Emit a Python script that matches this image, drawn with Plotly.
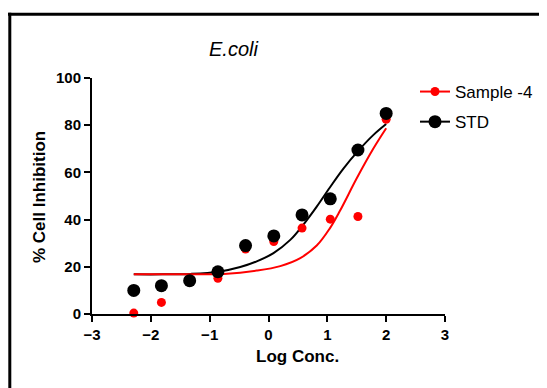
import plotly.graph_objects as go

# ---- data ----
log_conc = [-2.29, -1.82, -1.34, -0.86, -0.39, 0.09, 0.57, 1.05, 1.52, 2.00]
sample4 = [0.4, 4.9, 13.8, 15.1, 27.5, 30.7, 36.4, 40.2, 41.3, 82.5]
std = [10.0, 12.0, 14.1, 17.9, 29.0, 33.1, 42.0, 48.8, 69.5, 85.0]

# fitted curves
std_fit_x = [-2.29, -1.8, -1.32, -0.85, -0.48, -0.2, 0.085, 0.37, 0.59, 0.82, 1.04, 1.27, 1.52, 1.78, 2.0]
std_fit_y = [16.8, 16.8, 17.0, 17.9, 19.9, 22.3, 25.8, 31.4, 37.8, 45.5, 53.5, 61.5, 69.0, 75.8, 80.5]
s4_fit_x = [-2.29, -1.32, -0.76, -0.2, 0.2, 0.54, 0.82, 1.04, 1.21, 1.5, 1.78, 2.0]
s4_fit_y = [16.8, 16.8, 17.0, 18.4, 20.3, 23.7, 29.0, 36.2, 43.5, 57.5, 70.0, 78.7]

x_ticks = [-3, -2, -1, 0, 1, 2, 3]
y_ticks = [0, 20, 40, 60, 80, 100]

W, H = 547, 388
OFF = 8  # page body margin
# plot area in page pixels: x 92..445, y 78..314
ML, MT = 92 - OFF, 78 - OFF
PW, PH = 353, 236
MR, MB = W - ML - PW, H - MT - PH


def px(x):
    """page x pixel -> paper"""
    return (x - OFF - ML) / PW


def py(y):
    """page y pixel -> paper"""
    return (MT + PH - (y - OFF)) / PH


fig = go.Figure()

# curves
fig.add_trace(go.Scatter(x=std_fit_x, y=std_fit_y, mode="lines", line=dict(color="black", width=2, shape="spline"),
                         showlegend=False, hoverinfo="skip"))
fig.add_trace(go.Scatter(x=s4_fit_x, y=s4_fit_y, mode="lines", line=dict(color="#ff0000", width=2, shape="spline"),
                         showlegend=False, hoverinfo="skip"))
# points
fig.add_trace(go.Scatter(x=log_conc, y=sample4, mode="markers", marker=dict(color="#ff0000", size=9),
                         showlegend=False, cliponaxis=False))
fig.add_trace(go.Scatter(x=log_conc, y=std, mode="markers", marker=dict(color="black", size=13),
                         showlegend=False, cliponaxis=False))
# legend entries
fig.add_trace(go.Scatter(x=[None], y=[None], mode="lines+markers", name="Sample -4", legendgroup="a",
                         line=dict(color="#ff0000", width=2), marker=dict(color="#ff0000", size=9)))
fig.add_trace(go.Scatter(x=[None], y=[None], mode="lines+markers", name="STD", legendgroup="b",
                         line=dict(color="black", width=2), marker=dict(color="black", size=13)))

axis_common = dict(
    showgrid=False, zeroline=False, showline=True, linecolor="black", linewidth=2,
    ticks="outside", tickwidth=2, tickcolor="black", ticklen=6,
    tickfont=dict(family="Liberation Sans, Arial", size=15, color="black", weight="bold"),
)

fig.update_layout(
    width=W, height=H,
    margin=dict(l=ML, r=MR, t=MT, b=MB),
    paper_bgcolor="white", plot_bgcolor="white",
    xaxis=dict(range=[-3, 3], tickvals=x_ticks, **axis_common),
    yaxis=dict(range=[0, 100], tickvals=y_ticks, **axis_common),
    legend=dict(x=px(415), y=py(74), xanchor="left", yanchor="top", tracegroupgap=5,
                font=dict(family="Liberation Sans, Arial", size=17, color="black"),
                bgcolor="rgba(0,0,0,0)"),
    showlegend=True,
)

fig.add_annotation(text="<i>E.coli</i>", xref="paper", yref="paper", x=px(233), y=py(49),
                   showarrow=False, xanchor="center", yanchor="middle",
                   font=dict(family="Liberation Sans, Arial", size=20, color="black"))
fig.add_annotation(text="<b>Log Conc.</b>", xref="paper", yref="paper", x=px(297), y=py(356),
                   showarrow=False, xanchor="center", yanchor="middle",
                   font=dict(family="Liberation Sans, Arial", size=17, color="black"))
fig.add_annotation(text="<b>% Cell Inhibition</b>", xref="paper", yref="paper", x=px(39), y=py(197),
                   showarrow=False, xanchor="center", yanchor="middle", textangle=-90,
                   font=dict(family="Liberation Sans, Arial", size=17, color="black"))

# outer frame (top and left edges visible)
fig.add_shape(type="line", xref="paper", yref="paper", x0=px(8), x1=px(W + OFF), y0=py(14.3), y1=py(14.3),
              line=dict(color="black", width=3))
fig.add_shape(type="line", xref="paper", yref="paper", x0=px(9.8), x1=px(9.8), y0=py(12.8), y1=py(H + OFF),
              line=dict(color="black", width=3))

fig.write_html("out.html")
